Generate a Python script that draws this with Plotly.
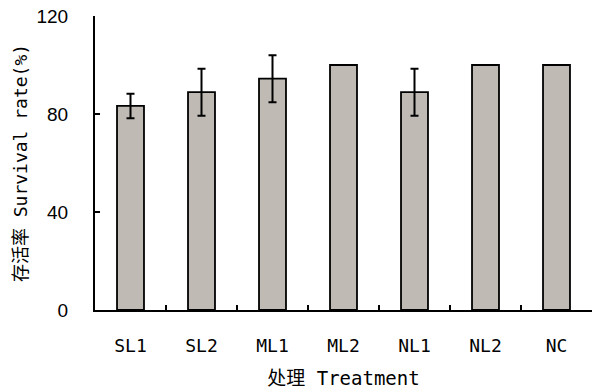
import plotly.graph_objects as go

# Survival rate per treatment (mean and standard deviation, %)
treatments = ["SL1", "SL2", "ML1", "ML2", "NL1", "NL2", "NC"]
survival = [83.3, 88.9, 94.4, 100, 88.9, 100, 100]
survival_sd = [5.0, 9.6, 9.6, 0, 9.6, 0, 0]
y_ticks = [0, 40, 80, 120]

latin_font = "Liberation Sans, Arial, Noto Sans CJK SC, sans-serif"
mono_font = "DejaVu Sans Mono, Noto Sans CJK SC, monospace"

fig = go.Figure(
    go.Bar(
        x=treatments,
        y=survival,
        error_y=dict(
            type="data",
            array=[s if s > 0 else None for s in survival_sd],
            visible=True,
            color="black",
            thickness=2,
            width=4,
        ),
        marker=dict(color="#BFBAB4", line=dict(color="black", width=1.8)),
    )
)

fig.update_layout(
    width=592,
    height=389,
    margin=dict(l=95, r=0, t=16, b=79),
    plot_bgcolor="white",
    paper_bgcolor="white",
    bargap=0.62,
    showlegend=False,
)

fig.update_xaxes(
    type="category",
    showline=True,
    linecolor="black",
    linewidth=2,
    ticks="inside",
    tickson="boundaries",
    ticklen=5,
    tickwidth=2,
    tickcolor="black",
    showgrid=False,
    tickfont=dict(family=mono_font, size=18, color="black"),
    ticklabelstandoff=18,
    title=dict(
        text="处理 Treatment",
        font=dict(family=mono_font, size=19, color="black"),
        standoff=18,
    ),
)

fig.update_yaxes(
    range=[0, 120],
    tickvals=y_ticks,
    showline=True,
    linecolor="black",
    linewidth=2,
    ticks="inside",
    ticklen=5,
    tickwidth=2,
    tickcolor="black",
    showgrid=False,
    zeroline=False,
    tickfont=dict(family=latin_font, size=19, color="black"),
    ticklabelstandoff=21,
    title=dict(
        text="存活率 Survival rate(%)",
        font=dict(family=mono_font, size=18, color="black"),
        standoff=4,
    ),
)

fig.write_html("out.html")
